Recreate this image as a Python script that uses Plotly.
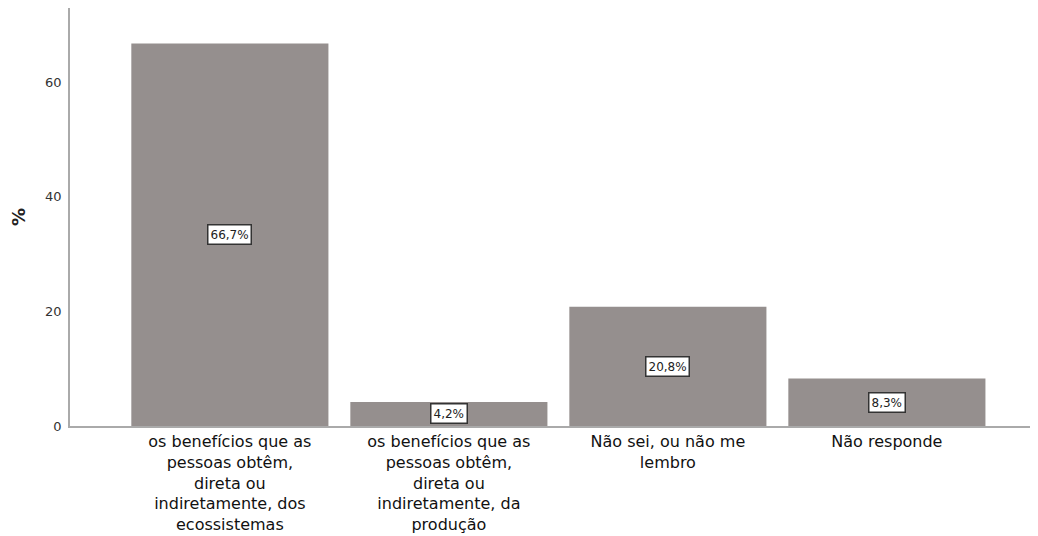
import plotly.graph_objects as go

categories = [
    "os benefícios que as<br>pessoas obtêm,<br>direta ou<br>indiretamente, dos<br>ecossistemas",
    "os benefícios que as<br>pessoas obtêm,<br>direta ou<br>indiretamente, da<br>produção",
    "Não sei, ou não me<br>lembro",
    "Não responde",
]
percent = [66.7, 4.2, 20.8, 8.3]
y_ticks = [0, 20, 40, 60]

bar_color = "#958f8e"
font_family = "DejaVu Sans, Verdana, sans-serif"

fig = go.Figure()
fig.add_trace(
    go.Bar(
        x=list(range(len(categories))),
        y=percent,
        marker=dict(color=bar_color, line=dict(width=0)),
        width=0.9,
        hoverinfo="skip",
    )
)

# value boxes in the middle of each bar
for i, v in enumerate(percent):
    fig.add_annotation(
        x=i,
        y=v / 2,
        text=f"{v:.1f}%".replace(".", ","),
        showarrow=False,
        font=dict(family=font_family, size=12, color="#222"),
        bgcolor="white",
        bordercolor="#333",
        borderwidth=1.5,
        borderpad=2,
    )

fig.update_layout(
    width=1030,
    height=528,
    margin=dict(l=62, r=0, t=0, b=110),
    paper_bgcolor="white",
    plot_bgcolor="white",
    showlegend=False,
    font=dict(family=font_family, color="#222"),
    xaxis=dict(
        range=[-0.73, 3.69],
        tickmode="array",
        tickvals=list(range(len(categories))),
        ticktext=categories,
        tickfont=dict(size=16, color="#111"),
        showline=True,
        linecolor="#aaa",
        linewidth=1.5,
        showgrid=False,
        zeroline=False,
        ticks="",
        tickangle=0,
        automargin=False,
    ),
    yaxis=dict(
        range=[0, 72.9],
        tickvals=y_ticks,
        tickfont=dict(size=13, color="#333"),
        showline=True,
        linecolor="#aaa",
        linewidth=1.5,
        showgrid=False,
        zeroline=False,
        ticks="",
        ticklabelstandoff=4,
        automargin=False,
        title=dict(text="<b>%</b>", font=dict(size=18, color="#222"), standoff=18),
    ),
)

fig.write_html("out.html")
